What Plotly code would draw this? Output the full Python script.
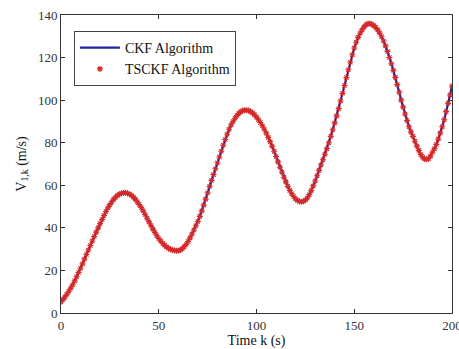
import plotly.graph_objects as go

k_vals = list(range(0, 201))
v_ckf = [5.3, 6.3, 7.5, 8.8, 10.2, 11.7, 13.3, 15.1, 17.0, 19.0,
         21.0, 23.1, 25.3, 27.5, 29.6, 31.7, 33.8, 35.9, 38.0, 40.0,
         42.0, 43.9, 45.8, 47.7, 49.4, 50.9, 52.3, 53.5, 54.5, 55.3,
         55.9, 56.3, 56.5, 56.5, 56.3, 55.9, 55.3, 54.5, 53.5, 52.3,
         51.0, 49.6, 48.0, 46.3, 44.5, 42.8, 41.1, 39.4, 37.8, 36.3,
         35.0, 33.8, 32.7, 31.8, 31.0, 30.4, 29.9, 29.6, 29.4, 29.3,
         29.3, 29.6, 30.2, 31.1, 32.2, 33.6, 35.3, 37.1, 39.0, 41.0,
         43.0, 45.4, 48.0, 50.7, 53.5, 56.5, 59.5, 62.3, 65.0, 67.8,
         70.5, 73.3, 76.0, 78.8, 81.5, 84.0, 86.3, 88.3, 90.0, 91.5,
         92.8, 93.8, 94.6, 95.1, 95.3, 95.3, 95.1, 94.6, 94.0, 93.1,
         92.0, 90.8, 89.5, 88.0, 86.3, 84.5, 82.5, 80.5, 78.3, 76.0,
         73.5, 71.0, 68.5, 66.1, 63.8, 61.6, 59.5, 57.6, 56.0, 54.7,
         53.6, 52.9, 52.4, 52.3, 52.5, 53.1, 54.0, 55.6, 57.5, 59.7,
         62.0, 64.5, 67.0, 69.5, 72.0, 74.6, 77.2, 80.0, 83.0, 86.1,
         89.3, 92.6, 96.0, 99.6, 103.2, 106.9, 110.6, 114.3, 117.8, 121.3,
         124.5, 127.2, 129.5, 131.4, 133.0, 134.4, 135.4, 135.9, 136.0, 135.7,
         135.0, 134.1, 133.0, 131.5, 129.8, 127.8, 125.5, 122.9, 120.0, 117.1,
         114.0, 110.7, 107.3, 103.7, 100.0, 96.7, 93.5, 90.4, 87.5, 85.1,
         83.0, 80.7, 78.5, 76.4, 74.5, 73.2, 72.3, 72.2, 72.5, 73.7,
         75.5, 77.2, 79.2, 81.7, 84.5, 87.5, 90.8, 94.6, 98.5, 102.4,
         106.5]
v_tsckf = list(v_ckf)

x_ticks = [0, 50, 100, 150, 200]
y_ticks = [0, 20, 40, 60, 80, 100, 120, 140]

serif = "Liberation Serif"

fig = go.Figure()
fig.add_trace(go.Scatter(
    x=k_vals, y=v_ckf, mode="lines", name="CKF Algorithm",
    line=dict(color="#1f1fa8", width=2.2),
))
fig.add_trace(go.Scatter(
    x=k_vals, y=v_tsckf, mode="markers", name="TSCKF Algorithm",
    marker=dict(symbol="asterisk-open", size=5, color="#d42a2a",
                line=dict(color="#d42a2a", width=1.1)),
))

axis_common = dict(
    showline=True, linecolor="#333333", linewidth=1, mirror="ticks",
    ticks="inside", ticklen=4, tickcolor="#333333", showgrid=False,
    zeroline=False, ticklabeloverflow="allow", automargin=False,
    tickfont=dict(family=serif, size=13, color="#333333"),
)

fig.update_layout(
    width=459, height=349,
    margin=dict(l=61, r=7, t=15, b=36, autoexpand=False),
    paper_bgcolor="white", plot_bgcolor="white",
    showlegend=True,
    font=dict(family=serif),
    legend=dict(x=0.033, y=0.946, xanchor="left", yanchor="top",
                bordercolor="#444444", borderwidth=1, bgcolor="white",
                font=dict(family=serif, size=14, color="#111111"),
                tracegroupgap=0, itemwidth=40),
    xaxis=dict(range=[0, 200], tickvals=x_ticks,
               title=dict(text="Time k (s)", standoff=2,
                          font=dict(family=serif, size=14, color="#111111")),
               **axis_common),
    yaxis=dict(range=[0, 140], tickvals=y_ticks,
               title=dict(text="V<sub>1,k</sub> (m/s)", standoff=8,
                          font=dict(family=serif, size=14, color="#111111")),
               **axis_common),
)

fig.write_html("out.html")
